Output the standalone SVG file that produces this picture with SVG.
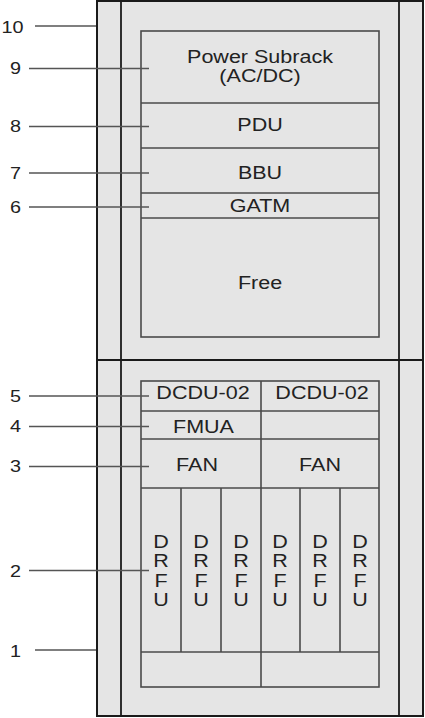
<svg xmlns="http://www.w3.org/2000/svg" width="425" height="718" viewBox="0 0 425 718">
<style>
.cab{fill:#e5e5e5;stroke:#1a1a1a;stroke-width:2}
.ln{stroke:#1a1a1a;stroke-width:1.8;fill:none}
.bx{fill:#e5e5e5;stroke:#4a4a4a;stroke-width:1.6}
.dv{stroke:#4a4a4a;stroke-width:1.6;fill:none}
.t{font-family:"Liberation Sans",Arial,sans-serif;font-size:17.5px;fill:#222;text-anchor:middle}
.n{font-family:"Liberation Sans",Arial,sans-serif;font-size:16.5px;fill:#222;text-anchor:middle}
.ld{stroke:#555;stroke-width:1.3;fill:none}
</style>
<rect width="425" height="718" fill="#fff"/>
<g id="cabinet">
<rect class="cab" x="97" y="1" width="326" height="715"/>
<line class="ln" x1="121" y1="1" x2="121" y2="716"/>
<line class="ln" x1="399" y1="1" x2="399" y2="716"/>
<line class="ln" x1="97" y1="360" x2="423" y2="360"/>
</g>
<g id="upper">
<rect class="bx" x="141" y="31" width="238" height="306"/>
<line class="dv" x1="141" y1="103" x2="379" y2="103"/>
<line class="dv" x1="141" y1="148" x2="379" y2="148"/>
<line class="dv" x1="141" y1="193" x2="379" y2="193"/>
<line class="dv" x1="141" y1="218" x2="379" y2="218"/>
</g>
<g id="power"><text class="t" transform="matrix(1.23 0 0 1 260 63)">Power Subrack</text><text class="t" transform="matrix(1.23 0 0 1 260 82)">(AC/DC)</text></g>
<g id="pdu"><text class="t" transform="matrix(1.23 0 0 1 260 131)">PDU</text></g>
<g id="bbu"><text class="t" transform="matrix(1.23 0 0 1 260 179)">BBU</text></g>
<g id="gatm"><text class="t" transform="matrix(1.23 0 0 1 260 212)">GATM</text></g>
<g id="free"><text class="t" transform="matrix(1.23 0 0 1 260 289)">Free</text></g>
<g id="lower">
<rect class="bx" x="141" y="381" width="238" height="306"/>
<line class="dv" x1="261" y1="381" x2="261" y2="687"/>
<line class="dv" x1="141" y1="411" x2="379" y2="411"/>
<line class="dv" x1="141" y1="439" x2="379" y2="439"/>
<line class="dv" x1="141" y1="488" x2="379" y2="488"/>
<line class="dv" x1="141" y1="652" x2="379" y2="652"/>
<line class="dv" x1="181" y1="488" x2="181" y2="652"/>
<line class="dv" x1="221" y1="488" x2="221" y2="652"/>
<line class="dv" x1="300" y1="488" x2="300" y2="652"/>
<line class="dv" x1="340" y1="488" x2="340" y2="652"/>
</g>
<g id="dcdu1"><text class="t" transform="matrix(1.23 0 0 1 203 399)">DCDU-02</text></g>
<g id="dcdu2"><text class="t" transform="matrix(1.23 0 0 1 322 399)">DCDU-02</text></g>
<g id="fmua"><text class="t" transform="matrix(1.23 0 0 1 203.5 433)">FMUA</text></g>
<g id="fan1"><text class="t" transform="matrix(1.23 0 0 1 197 471)">FAN</text></g>
<g id="fan2"><text class="t" transform="matrix(1.23 0 0 1 320 471)">FAN</text></g>
<g id="drfu1"><text class="t" transform="matrix(1.23 0 0 1 161 548)">D</text><text class="t" transform="matrix(1.23 0 0 1 161 567)">R</text><text class="t" transform="matrix(1.23 0 0 1 161 587)">F</text><text class="t" transform="matrix(1.23 0 0 1 161 606)">U</text></g>
<g id="drfu2"><text class="t" transform="matrix(1.23 0 0 1 201 548)">D</text><text class="t" transform="matrix(1.23 0 0 1 201 567)">R</text><text class="t" transform="matrix(1.23 0 0 1 201 587)">F</text><text class="t" transform="matrix(1.23 0 0 1 201 606)">U</text></g>
<g id="drfu3"><text class="t" transform="matrix(1.23 0 0 1 241 548)">D</text><text class="t" transform="matrix(1.23 0 0 1 241 567)">R</text><text class="t" transform="matrix(1.23 0 0 1 241 587)">F</text><text class="t" transform="matrix(1.23 0 0 1 241 606)">U</text></g>
<g id="drfu4"><text class="t" transform="matrix(1.23 0 0 1 280 548)">D</text><text class="t" transform="matrix(1.23 0 0 1 280 567)">R</text><text class="t" transform="matrix(1.23 0 0 1 280 587)">F</text><text class="t" transform="matrix(1.23 0 0 1 280 606)">U</text></g>
<g id="drfu5"><text class="t" transform="matrix(1.23 0 0 1 320 548)">D</text><text class="t" transform="matrix(1.23 0 0 1 320 567)">R</text><text class="t" transform="matrix(1.23 0 0 1 320 587)">F</text><text class="t" transform="matrix(1.23 0 0 1 320 606)">U</text></g>
<g id="drfu6"><text class="t" transform="matrix(1.23 0 0 1 360 548)">D</text><text class="t" transform="matrix(1.23 0 0 1 360 567)">R</text><text class="t" transform="matrix(1.23 0 0 1 360 587)">F</text><text class="t" transform="matrix(1.23 0 0 1 360 606)">U</text></g>
<g id="connectors">
<line class="ld" x1="35" y1="26" x2="96" y2="26"/>
<line class="ld" x1="29" y1="68.5" x2="149" y2="68.5"/>
<line class="ld" x1="29" y1="126.5" x2="149" y2="126.5"/>
<line class="ld" x1="29" y1="173" x2="149" y2="173"/>
<line class="ld" x1="29" y1="207" x2="149" y2="207"/>
<line class="ld" x1="29" y1="396" x2="149" y2="396"/>
<line class="ld" x1="29" y1="426.5" x2="149" y2="426.5"/>
<line class="ld" x1="29" y1="466.5" x2="149" y2="466.5"/>
<line class="ld" x1="29" y1="570.5" x2="149" y2="570.5"/>
<line class="ld" x1="35" y1="650" x2="96" y2="650"/>
</g>
<g id="labels">
<text class="n" transform="matrix(1.2 0 0 1 12.5 33)">10</text>
<text class="n" transform="matrix(1.2 0 0 1 15.5 74)">9</text>
<text class="n" transform="matrix(1.2 0 0 1 15.5 132)">8</text>
<text class="n" transform="matrix(1.2 0 0 1 15.5 179)">7</text>
<text class="n" transform="matrix(1.2 0 0 1 15.5 213)">6</text>
<text class="n" transform="matrix(1.2 0 0 1 15.5 402)">5</text>
<text class="n" transform="matrix(1.2 0 0 1 15.5 432)">4</text>
<text class="n" transform="matrix(1.2 0 0 1 15.5 472)">3</text>
<text class="n" transform="matrix(1.2 0 0 1 15.5 577)">2</text>
<text class="n" transform="matrix(1.2 0 0 1 15.5 657)">1</text>
</g>
</svg>
